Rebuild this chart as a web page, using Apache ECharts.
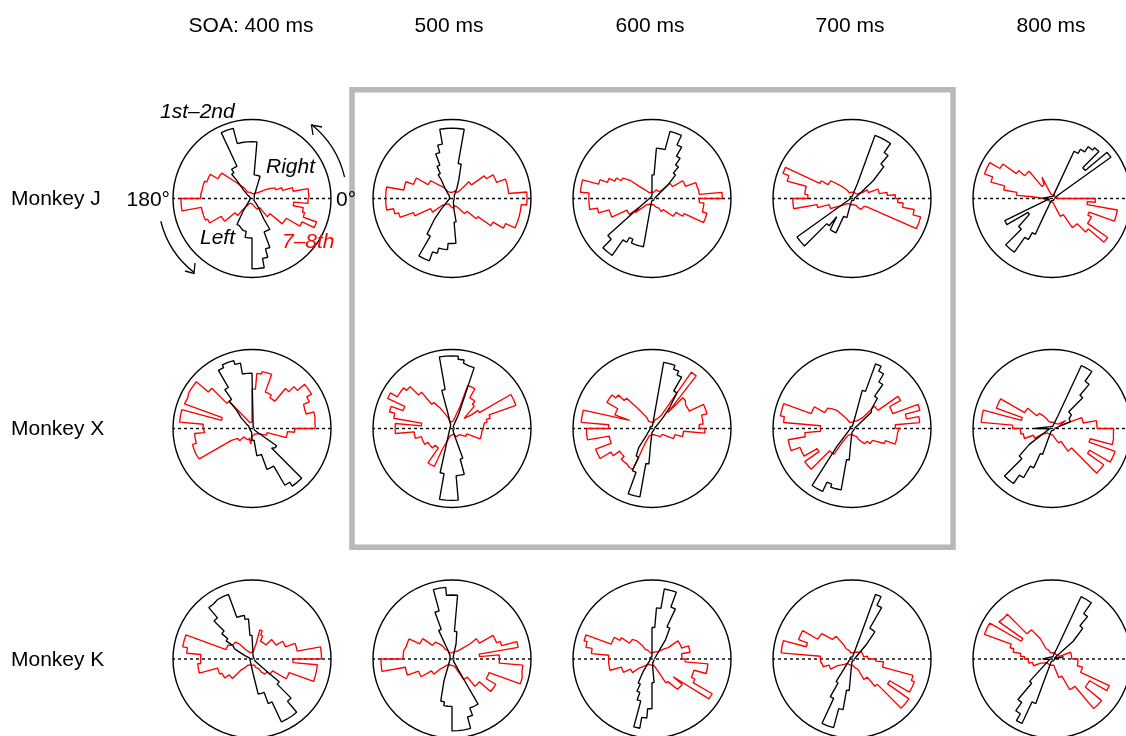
<!DOCTYPE html>
<html>
<head>
<meta charset="utf-8">
<script src="https://cdn.jsdelivr.net/npm/echarts@6/dist/echarts.min.js"></script>
<style>
  html, body { margin: 0; padding: 0; background: #fff; }
  #chart { width: 1126px; height: 736px; }
</style>
</head>
<body>
<div id="chart"></div>
<script>
// Column and row headings
const soaLabels = ['SOA: 400 ms', '500 ms', '600 ms', '700 ms', '800 ms'];
const monkeyLabels = ['Monkey J', 'Monkey X', 'Monkey K'];

// Angular bin width of every rose histogram (degrees); 72 bins from 0° counter-clockwise.
// Values are bin heights as a percentage of the outer circle radius.
const binWidth = 5;

// ---- Monkey J ----
const j400Early = [3,3,3,3,3,3,3,3,3, 3,3,5,8,12,30,30,30,72, 72,72,72,92,92,45,45,40,30, 15,8,5,3,3,3,3,3,3, 3,3,3,3,3,3,3,3,3, 5,10,20,38,40,42,42,50,50, 89,89,77,66,45,45,30,15,8, 3,3,3,3,3,3,3,3,3];
const j400Late  = [72,72,53,40,32,32,25,18,18, 10,8,8,8,8,8,6,6,6, 6,6,6,8,8,10,10,15,20, 30,50,50,61,61,64,64,65,65, 90,90,65,65,65,62,45,45,28, 28,20,12,8,8,6,6,6,6, 6,6,8,10,12,15,15,15,30, 30,50,50,70,87,69,66,53,71];
const j500Early = [3,3,3,3,3,3,3,3,3, 3,3,5,8,15,25,45,89,89, 89,89,70,60,45,35,27,15,8, 5,3,3,3,3,3,3,3,3, 3,3,3,3,3,3,3,3,3, 20,35,55,84,84,72,65,65,57, 57,30,15,8,5,3,3,3,3, 3,3,3,3,3,3,3,3,3];
const j500Late  = [95,72,72,72,60,60,50,30,30, 15,10,10,10,10,10,8,8,8, 8,8,8,8,10,10,12,15,20, 25,35,35,52,52,62,62,84,84, 84,84,75,70,52,30,30,15,15, 10,8,8,8,8,10,10,12,12, 12,12,10,10,10,10,12,15,25, 25,40,60,75,88,88,88,88,95];
const j600Early = [3,3,3,3,3,3,3,12,25, 42,52,62,75,88,88,64,64,30, 8,3,3,3,3,3,3,3,3, 3,3,3,3,3,3,3,3,3, 3,3,3,3,3,3,3,20,73, 88,88,64,57,62,62,62,10,3, 3,3,3,3,3,3,3,3,3, 3,3,3,3,3,3,3,3,3];
const j600Late  = [89,60,59,59,45,45,30,30,15, 15,12,12,12,10,10,8,8,8, 8,8,8,8,8,10,10,12,15, 20,35,45,52,60,70,91,91,80, 80,80,70,56,56,35,35,20,28, 15,10,8,8,8,8,8,8,8, 8,8,8,10,10,12,15,20,20, 20,35,35,45,72,72,66,66,60];
const j700Early = [3,3,3,3,3,3,3,15,35, 57,71,85,85,85,20,8,3,3, 3,3,3,3,3,3,3,3,3, 3,3,3,3,3,3,3,3,3, 3,3,3,3,3,3,10,85,85, 45,30,48,48,25,25,10,3,3, 3,3,3,3,3,3,3,3,3, 3,3,3,3,3,3,3,3,3];
const j700Late  = [55,45,35,35,22,22,15,12,10, 8,8,8,8,8,8,8,8,8, 8,8,8,8,8,10,12,15,20, 20,35,35,45,93,85,60,60,56, 75,75,45,30,30,30,20,15,12, 10,8,8,8,8,8,8,8,8, 8,8,8,8,10,10,12,15,18, 18,18,20,20,90,90,80,65,58];
const j800Early = [3,3,3,3,3,3,10,91,55, 84,80,72,66,3,3,3,3,3, 3,3,3,3,3,3,3,3,3, 3,3,3,3,3,3,3,3,3, 12,12,3,3,10,66,35,35,55, 83,83,60,50,25,3,3,3,3, 3,3,3,3,3,3,3,3,3, 3,3,3,3,3,3,3,3,3];
const j800Late  = [8,8,5,5,5,5,5,5,5, 5,5,5,5,5,5,5,5,5, 5,5,5,5,10,30,20,20,45, 45,55,76,91,91,80,62,45,25, 10,8,8,5,5,5,5,5,5, 5,5,5,5,5,5,5,5,5, 5,5,5,5,10,25,25,45,45, 60,86,55,55,50,84,84,45,55];

// ---- Monkey X ----
const x400Early = [3,3,3,3,3,3,3,3,3, 3,3,3,3,3,3,3,3,3, 70,70,84,89,89,85,60,45,30, 20,10,5,3,3,3,3,3,3, 3,3,3,3,3,3,3,3,3, 3,3,3,3,3,3,3,3,5, 15,15,35,35,55,55,83,89,89, 35,38,10,3,3,3,3,3,3];
const x400Late  = [80,81,81,71,72,80,87,87,75, 66,45,45,49,49,73,73,70,50, 8,8,8,8,8,8,10,20,45, 72,92,92,90,91,40,92,92,62, 60,73,73,78,78,77,30,22,22, 15,15,15,15,15,15,12,15,20, 10,8,8,8,8,8,8,8,8, 8,10,10,15,20,20,45,45,54];
const x500Early = [3,3,3,3,3,3,3,3,3, 3,3,3,3,20,82,84,88,92, 92,92,50,20,5,3,3,3,3, 3,3,3,3,3,3,3,3,3, 3,3,3,3,3,3,3,3,3, 3,3,3,3,3,20,58,91,91, 91,60,60,40,10,3,3,3,3, 3,3,3,3,3,3,3,3,3];
const x500Late  = [40,42,45,50,86,86,40,30,20, 40,45,45,58,58,30,15,10,8, 8,8,8,10,15,20,30,40,60, 75,80,80,90,66,82,75,39,72, 72,48,48,40,40,40,35,35,35, 30,30,53,53,30,15,10,8,8, 8,8,8,8,10,10,12,12,12, 12,12,12,20,20,38,38,38,40];
const x600Early = [3,3,3,3,3,3,3,3,12, 20,35,55,75,80,85,85,3,3, 3,3,3,3,3,3,3,3,3, 3,3,3,3,3,3,3,3,3, 3,3,3,3,3,3,3,3,3, 3,10,29,40,59,88,88,45,20, 5,3,3,3,3,3,3,3,3, 3,3,3,3,3,3,3,3,3];
const x600Late  = [60,65,65,72,72,52,52,55,55, 28,87,20,15,12,10,8,8,8, 8,8,8,10,10,15,20,30,50, 60,66,66,50,50,30,90,90,55, 83,83,55,55,76,76,60,50,50, 55,55,57,57,20,10,8,8,8, 8,8,8,8,8,8,10,12,15, 15,15,15,15,30,30,40,40,67];
const x700Early = [3,3,3,3,3,3,3,3,32, 35,50,68,80,87,50,15,3,3, 3,3,3,3,3,3,3,3,3, 3,3,3,3,3,3,3,3,3, 3,3,3,3,3,3,3,3,3, 3,30,88,88,75,79,79,40,20, 5,3,3,3,3,3,3,3,3, 3,3,3,3,3,3,3,3,3];
const x700Late  = [55,86,70,89,55,55,71,40,40, 20,15,12,10,10,8,8,8,8, 8,8,8,8,10,10,15,20,30, 35,40,40,55,55,92,92,87,40, 40,60,82,82,70,70,51,73,73, 40,40,20,10,8,8,8,8,8, 8,8,8,8,10,12,15,20,25, 25,30,30,30,45,58,58,58,60];
const x800Early = [3,3,3,3,25,25,25,30,30, 55,73,88,88,20,3,3,3,3, 3,3,3,3,3,3,3,3,3, 3,3,3,3,3,3,3,3,3, 22,3,3,3,3,3,3,35,54, 85,85,72,55,35,10,3,3,3, 3,3,3,3,3,3,3,3,3, 3,3,3,3,3,3,3,3,3];
const x800Late  = [57,57,40,40,10,10,20,10,8, 8,8,8,8,8,8,8,8,8, 8,8,8,10,10,12,15,20,25, 25,40,40,75,75,40,90,90,50, 40,40,37,37,25,25,15,12,10, 8,8,8,8,8,8,8,8,8, 8,8,8,10,15,20,20,35,35, 80,80,55,85,85,50,79,78,78];

// ---- Monkey K ----
const k400Early = [3,3,3,3,3,3,3,3,3, 3,3,3,3,3,3,3,3,3, 30,51,56,56,87,87,85,85,68, 50,40,30,25,10,3,3,3,3, 3,3,3,3,3,3,3,3,3, 3,3,3,3,3,3,3,3,3, 3,20,45,45,60,88,88,88,70, 45,30,5,3,3,3,3,3,3];
const k400Late  = [88,88,58,58,45,45,35,35,35, 25,25,25,25,32,38,20,10,8, 8,8,8,8,8,10,12,15,25, 30,30,30,35,35,89,89,83,65, 65,69,69,45,45,42,42,35,35, 20,15,10,8,8,8,8,8,8, 8,8,8,8,10,12,15,20,25, 25,30,30,50,50,83,83,83,52];
const k500Early = [3,3,3,3,3,3,3,3,3, 3,3,3,3,3,3,20,35,81, 81,91,91,63,40,15,5,3,3, 3,3,3,3,3,3,3,3,3, 3,3,3,3,3,3,3,3,3, 3,3,3,3,3,30,55,60,60, 91,91,91,76,66,66,30,3,3, 3,3,3,3,3,3,3,3,3];
const k500Late  = [60,35,85,65,60,60,40,40,30, 20,15,12,10,10,8,8,8,8, 8,8,8,8,10,12,15,20,25, 30,30,45,45,60,60,62,62,62, 90,90,60,60,45,45,30,30,20, 15,10,8,8,8,8,8,8,8, 8,8,10,10,12,15,30,30,45, 45,64,64,50,50,92,90,90,60];
const k600Early = [3,3,3,3,3,3,3,3,3, 3,15,30,45,70,90,90,65,40, 3,3,3,3,3,3,3,3,3, 3,3,3,3,3,3,3,3,3, 3,3,3,3,3,3,3,3,3, 3,3,20,35,45,55,89,75,63, 30,10,5,3,3,3,3,3,3, 3,3,3,3,3,3,3,3,3];
const k600Late  = [38,38,49,49,40,40,40,25,20, 15,12,10,10,8,8,8,8,8, 8,8,8,8,10,12,15,20,30, 35,35,47,55,55,89,85,77,55, 55,55,55,40,40,30,30,20,15, 12,10,8,8,8,8,8,8,8, 8,8,8,8,10,15,35,35,50, 50,35,88,60,55,55,71,71,42];
const k700Early = [3,3,3,3,3,3,3,3,3, 25,45,45,75,87,30,3,3,3, 3,3,3,3,3,3,3,3,3, 3,3,3,3,3,3,3,3,3, 3,3,3,3,3,3,3,3,3, 3,3,35,55,90,90,65,40,20, 3,3,3,3,3,3,3,3,3, 3,3,3,3,3,3,3,3,3];
const k700Late  = [20,20,15,15,15,15,15,15,15, 12,10,10,8,8,8,8,8,8, 8,8,8,10,12,15,20,35,35, 35,50,50,72,72,60,90,90,40, 40,38,38,30,30,20,15,12,10, 8,8,8,8,8,8,8,8,8, 8,8,8,10,12,15,30,30,45, 88,88,55,84,84,80,40,40,30];
const k800Early = [3,3,15,15,3,3,3,3,35, 55,70,87,87,20,3,3,3,3, 3,3,3,3,3,3,3,3,3, 3,3,3,3,3,3,3,3,3, 12,12,3,3,3,3,3,3,3, 40,67,80,90,60,30,3,3,3, 3,3,3,3,3,3,3,3,3, 3,3,3,3,3,3,3,3,3];
const k800Late  = [25,25,25,25,10,8,8,8,8, 8,8,8,8,8,8,8,8,8, 8,8,8,10,12,15,30,45,45, 80,82,45,91,91,55,50,40,35, 30,30,25,25,15,12,10,8,8, 8,8,8,8,8,8,8,8,8, 8,8,8,8,25,25,45,45,82, 82,55,55,80,40,40,33,33,33];

// Grid of panels: rows are monkeys, columns are SOAs
const earlyGrid = [
  [j400Early, j500Early, j600Early, j700Early, j800Early],
  [x400Early, x500Early, x600Early, x700Early, x800Early],
  [k400Early, k500Early, k600Early, k700Early, k800Early]
];
const lateGrid = [
  [j400Late, j500Late, j600Late, j700Late, j800Late],
  [x400Late, x500Late, x600Late, x700Late, x800Late],
  [k400Late, k500Late, k600Late, k700Late, k800Late]
];

// Panel geometry (pixels)
const colCenters = [252, 452, 652, 852, 1052];
const rowCenters = [198.5, 428.5, 659];
const plotRadius = 79;

// Turn bin heights into a closed stairs outline in [radius, angle] pairs
function stairs(counts) {
  const pts = [];
  counts.forEach((r, k) => {
    pts.push([r, k * binWidth]);
    pts.push([r, (k + 1) * binWidth]);
  });
  pts.push([counts[0], 360]);
  return pts;
}

const polar = [], angleAxis = [], radiusAxis = [], series = [];
rowCenters.forEach((cy, ri) => {
  colCenters.forEach((cx, ci) => {
    const idx = polar.length;
    polar.push({ center: [cx, cy], radius: plotRadius });
    angleAxis.push({
      polarIndex: idx, type: 'value', min: 0, max: 360,
      startAngle: 0, clockwise: false,
      axisLine: { show: true, lineStyle: { color: '#000', width: 1.4 } },
      axisTick: { show: false }, axisLabel: { show: false }, splitLine: { show: false }
    });
    radiusAxis.push({
      polarIndex: idx, type: 'value', min: 0, max: 100,
      axisLine: { show: false }, axisTick: { show: false },
      axisLabel: { show: false }, splitLine: { show: false }
    });
    // 0°–180° reference diameter
    series.push({
      type: 'line', coordinateSystem: 'polar', polarIndex: idx,
      data: [[100, 0], [100, 180]], symbol: 'none', silent: true, z: 1,
      lineStyle: { color: '#000', width: 1.4, type: [3, 3] }
    });
    // 7–8th saccades (red)
    series.push({
      type: 'line', coordinateSystem: 'polar', polarIndex: idx,
      data: stairs(lateGrid[ri][ci]), symbol: 'none', silent: true, z: 2,
      lineStyle: { color: '#ff0000', width: 1.35 }
    });
    // 1st–2nd saccades (black)
    series.push({
      type: 'line', coordinateSystem: 'polar', polarIndex: idx,
      data: stairs(earlyGrid[ri][ci]), symbol: 'none', silent: true, z: 3,
      lineStyle: { color: '#000', width: 1.35 }
    });
  });
});

const font = '"Liberation Sans", Arial, sans-serif';
function label(text, x, y, opts) {
  return {
    type: 'text', x: x, y: y, z: 10, silent: true,
    style: Object.assign({
      text: text, fontSize: 21, fontFamily: font, fill: '#000',
      align: 'center', verticalAlign: 'middle'
    }, opts || {})
  };
}
const deg = Math.PI / 180;
const graphic = [];
// Column headings
const headingX = [251, 449, 650, 850, 1051];
soaLabels.forEach((t, i) => graphic.push(label(t, headingX[i], 26)));
// Row headings
monkeyLabels.forEach((t, i) => graphic.push(label(t, 11, rowCenters[i] + 1, { align: 'left' })));
// Direction annotations on the first panel
graphic.push(label('1st\u20132nd', 160, 112, { align: 'left', fontStyle: 'italic' }));
graphic.push(label('Right', 266, 167, { align: 'left', fontStyle: 'italic' }));
graphic.push(label('Left', 200, 238, { align: 'left', fontStyle: 'italic' }));
graphic.push(label('7\u20138th', 282, 242, { align: 'left', fontStyle: 'italic', fill: '#ff0000' }));
graphic.push(label('180\u00b0', 170, 200, { align: 'right' }));
graphic.push(label('0\u00b0', 336, 200, { align: 'left' }));
// Rotation arrows
graphic.push({
  type: 'arc', silent: true, z: 10,
  shape: { cx: 252, cy: 198.5, r: 95, startAngle: -51 * deg, endAngle: -13 * deg, clockwise: true },
  style: { stroke: '#000', lineWidth: 1.3, fill: null }
});
graphic.push({
  type: 'polyline', silent: true, z: 10,
  shape: { points: [[322, 127], [311.5, 125], [313, 135]] },
  style: { stroke: '#000', lineWidth: 1.3, fill: null }
});
graphic.push({
  type: 'arc', silent: true, z: 10,
  shape: { cx: 252, cy: 198.5, r: 94, startAngle: 128 * deg, endAngle: 166 * deg, clockwise: true },
  style: { stroke: '#000', lineWidth: 1.3, fill: null }
});
graphic.push({
  type: 'polyline', silent: true, z: 10,
  shape: { points: [[185, 271], [194, 273.5], [195, 263]] },
  style: { stroke: '#000', lineWidth: 1.3, fill: null }
});
// Frame around the highlighted panels
graphic.push({
  type: 'rect', silent: true, z: 0,
  shape: { x: 352, y: 89.7, width: 601, height: 457.5 },
  style: { stroke: '#b8b8b8', lineWidth: 5.5, fill: null }
});

const chart = echarts.init(document.getElementById('chart'), null, { renderer: 'canvas' });
chart.setOption({
  animation: false,
  backgroundColor: '#fff',
  polar: polar,
  angleAxis: angleAxis,
  radiusAxis: radiusAxis,
  series: series,
  graphic: graphic
});
</script>
</body>
</html>
